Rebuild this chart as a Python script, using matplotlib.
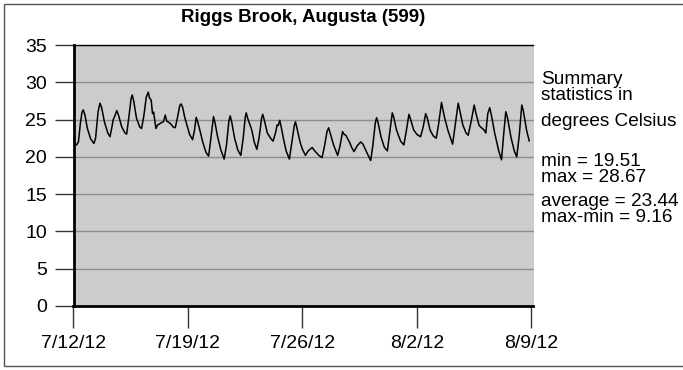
import pandas as pd
import matplotlib
matplotlib.use("Agg")
import matplotlib.pyplot as plt
from matplotlib.patches import Rectangle

plt.rcParams['font.family'] = ['Liberation Sans', 'DejaVu Sans']

start = pd.Timestamp("2012-07-12")

# time in days after 7/12/12 00:00, water temperature in deg C
day_offsets = [
    0.00, 0.10, 0.19, 0.30, 0.42, 0.52, 0.60, 0.70, 0.85, 1.05,
    1.25, 1.35, 1.50, 1.62, 1.72, 1.90, 2.10, 2.23, 2.35, 2.43,
    2.55, 2.64, 2.75, 2.95, 3.15, 3.25, 3.40, 3.52, 3.59, 3.68,
    3.85, 4.05, 4.16, 4.30, 4.45, 4.57, 4.65, 4.75, 4.83, 4.90,
    5.04, 5.15, 5.25, 5.38, 5.50, 5.61, 5.70, 5.91, 6.10, 6.22,
    6.35, 6.50, 6.58, 6.68, 6.80, 6.93, 7.10, 7.28, 7.40, 7.50,
    7.58, 7.70, 7.90, 8.10, 8.26, 8.40, 8.56, 8.65, 8.80, 9.00,
    9.21, 9.35, 9.50, 9.58, 9.68, 9.85, 10.05, 10.23, 10.38, 10.50,
    10.56, 10.66, 10.90, 11.05, 11.21, 11.35, 11.50, 11.57, 11.68, 11.85,
    12.05, 12.20, 12.35, 12.45, 12.52, 12.61, 12.70, 12.85, 13.00, 13.20,
    13.35, 13.50, 13.57, 13.67, 13.85, 14.00, 14.18, 14.35, 14.59, 14.75,
    15.00, 15.20, 15.35, 15.50, 15.60, 15.72, 15.90, 16.15, 16.30, 16.45,
    16.55, 16.65, 16.89, 17.00, 17.15, 17.35, 17.56, 17.70, 17.95, 18.17,
    18.30, 18.45, 18.53, 18.62, 18.80, 19.00, 19.19, 19.32, 19.49, 19.58,
    19.75, 20.00, 20.20, 20.35, 20.51, 20.60, 20.80, 21.00, 21.22, 21.38,
    21.53, 21.62, 21.80, 22.00, 22.18, 22.33, 22.50, 22.58, 22.70, 22.90,
    23.18, 23.32, 23.52, 23.62, 23.80, 24.00, 24.13, 24.30, 24.50, 24.60,
    24.80, 25.10, 25.21, 25.33, 25.45, 25.55, 25.75, 26.00, 26.17, 26.30,
    26.43, 26.52, 26.75, 26.95, 27.10, 27.25, 27.41, 27.50, 27.70, 27.86,
]
temps = [
    22.3, 21.8, 21.6, 22.0, 24.5, 26.0, 26.3, 25.6, 23.8, 22.4,
    21.8, 22.5, 26.0, 27.2, 26.6, 24.6, 23.2, 22.7, 24.0, 25.0,
    25.6, 26.2, 25.6, 24.0, 23.2, 23.05, 25.6, 27.8, 28.3, 27.5,
    25.2, 24.0, 23.8, 25.5, 28.0, 28.67, 27.9, 27.6, 25.8, 26.0,
    23.8, 24.3, 24.4, 24.6, 24.7, 25.6, 24.8, 24.5, 24.0, 23.9,
    25.2, 26.9, 27.1, 26.6, 25.3, 24.3, 23.0, 22.3, 23.6, 25.3,
    24.8, 23.8, 22.0, 20.6, 20.1, 22.5, 25.4, 24.6, 22.8, 21.0,
    19.7, 21.5, 24.8, 25.5, 24.6, 22.5, 20.9, 20.2, 22.6, 25.3,
    25.9, 25.1, 23.6, 22.0, 21.0, 22.6, 25.2, 25.7, 24.8, 23.2,
    22.5, 22.1, 23.2, 24.3, 24.2, 24.9, 24.0, 22.3, 20.8, 19.7,
    22.0, 24.2, 24.7, 23.8, 22.0, 21.0, 20.2, 20.8, 21.25, 20.8,
    20.2, 19.9, 21.5, 23.4, 23.9, 23.0, 21.6, 20.2, 21.5, 23.4,
    23.0, 22.9, 21.9, 21.3, 20.7, 21.5, 22.0, 21.7, 20.5, 19.51,
    21.5, 24.5, 25.25, 24.6, 22.7, 21.3, 20.8, 23.0, 25.9, 25.3,
    23.6, 22.1, 21.6, 23.5, 25.7, 25.1, 23.6, 23.0, 22.7, 24.0,
    25.8, 25.3, 23.6, 22.8, 22.5, 24.5, 27.3, 26.4, 25.15, 23.5,
    21.7, 24.0, 27.2, 26.2, 24.3, 23.2, 22.9, 24.6, 26.95, 25.9,
    24.2, 23.6, 23.2, 25.8, 26.6, 25.6, 23.2, 20.8, 19.6, 23.0,
    26.05, 25.4, 22.6, 20.8, 20.0, 22.8, 26.95, 26.2, 23.6, 22.15,
]

tick_dates = ["2012-07-12", "2012-07-19", "2012-07-26", "2012-08-02", "2012-08-09"]
tick_labels = ["7/12/12", "7/19/12", "7/26/12", "8/2/12", "8/9/12"]
y_ticks = [0, 5, 10, 15, 20, 25, 30, 35]

title = "Riggs Brook, Augusta (599)"
stat_min = 19.51
stat_max = 28.67
stat_avg = 23.44
stat_range = 9.16

times = start + pd.to_timedelta(day_offsets, unit="D")

fig = plt.figure(figsize=(6.83, 3.70), dpi=100)
ax = fig.add_axes([73.5 / 683, 1 - 306 / 370, (533.5 - 73.5) / 683, (306 - 45) / 370])
ax.set_facecolor("#cccccc")

ax.plot(times, temps, color="black", linewidth=1.1)

ax.set_ylim(0, 35)
ax.set_yticks(y_ticks)
ax.yaxis.grid(True, color="#8c8c8c", linewidth=1)
ax.set_axisbelow(True)

xt = pd.to_datetime(tick_dates)
ax.set_xticks(xt)
ax.set_xticklabels(tick_labels)
ax.set_xlim(start, pd.Timestamp("2012-08-09") + pd.Timedelta(hours=3))

ax.tick_params(axis="y", length=14, width=1, color="#333333", pad=5, labelsize=14)
ax.tick_params(axis="x", length=16, width=1, color="#333333", pad=5, labelsize=14)

ax.spines["right"].set_visible(False)
ax.spines["top"].set_linewidth(1)
ax.spines["left"].set_linewidth(2)
ax.spines["bottom"].set_linewidth(2)

fig.text(303 / 683, 1 - 17 / 370, title, ha="center", va="center",
         fontsize=13.5, fontweight="bold")

tx = 541 / 683
lines = [
    ("Summary", 80),
    ("statistics in", 96),
    ("degrees Celsius", 121),
    (f"min = {stat_min:.2f}", 161),
    (f"max = {stat_max:.2f}", 178),
    (f"average = {stat_avg:.2f}", 201),
    (f"max-min = {stat_range:.2f}", 218),
]
for s, y in lines:
    fig.text(tx, 1 - y / 370, s, ha="left", va="center", fontsize=13.7)

# outer frame; right side runs off the canvas like in the original
fig.patches.append(Rectangle((4 / 683, 4 / 370), 690 / 683, 362 / 370,
                             transform=fig.transFigure, fill=False,
                             edgecolor="#555555", linewidth=1))

fig.savefig("out.png", dpi=100)
plt.close(fig)
